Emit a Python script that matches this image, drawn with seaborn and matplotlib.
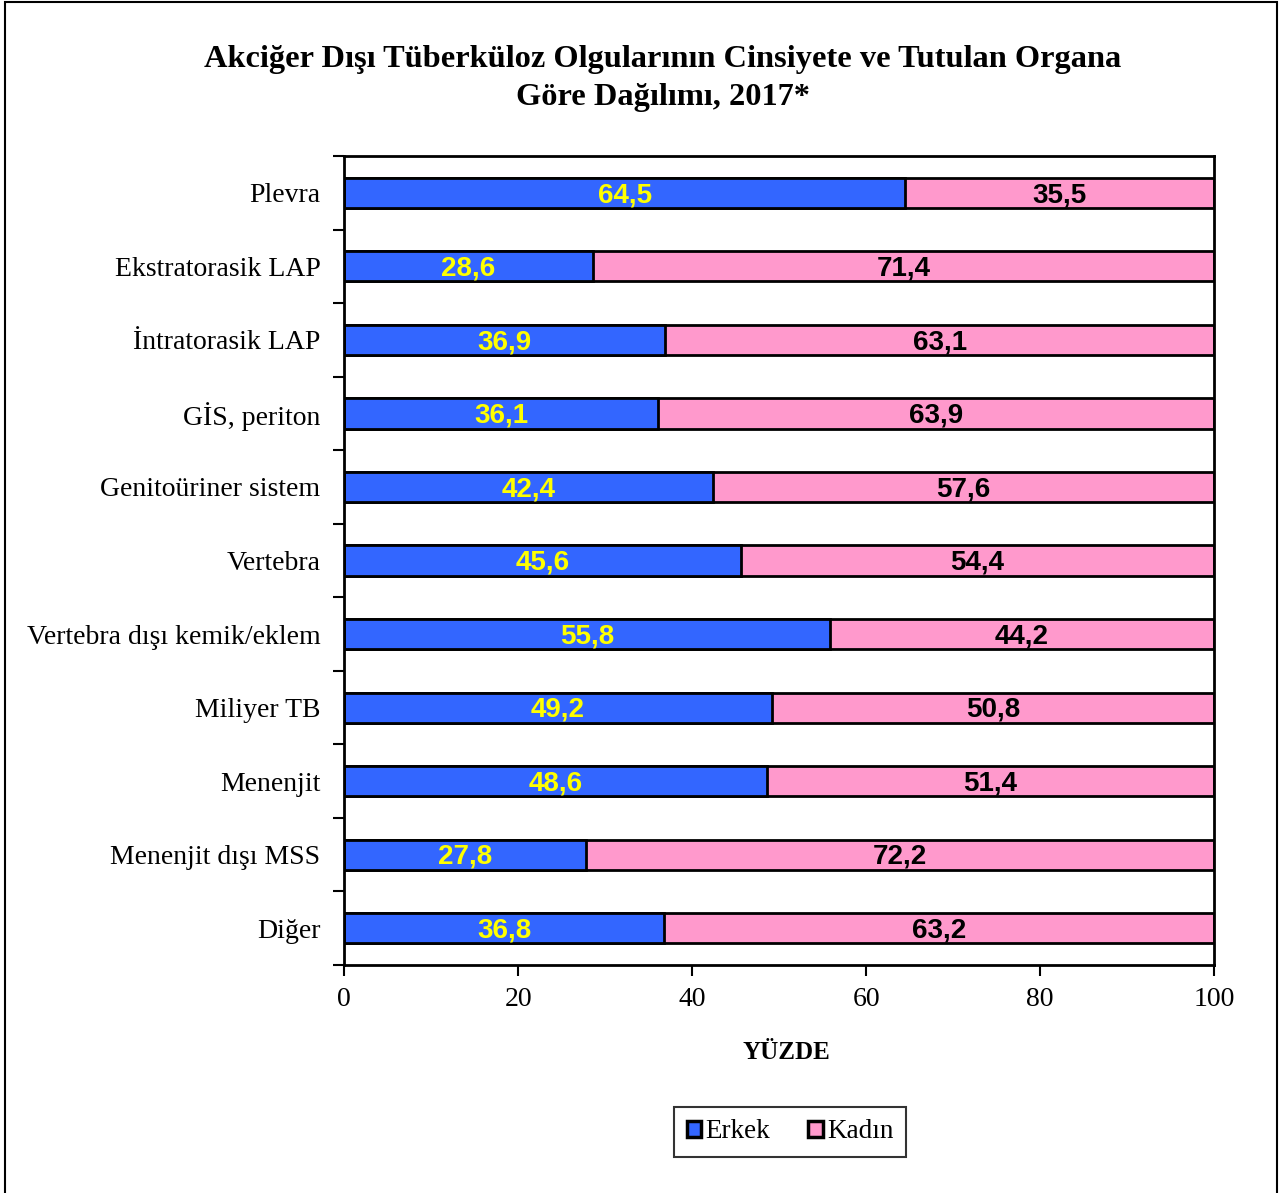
import pandas as pd
import matplotlib.pyplot as plt
import seaborn as sns
from matplotlib.patches import Rectangle, Patch
from matplotlib.ticker import FixedLocator

sns.set_style("white")
plt.rcParams['font.family'] = ['Liberation Serif', 'DejaVu Serif']
plt.rcParams['text.color'] = 'black'
plt.rcParams['xtick.color'] = 'black'
plt.rcParams['ytick.color'] = 'black'
plt.rcParams['axes.labelcolor'] = 'black'

# Data
organs = ['Plevra', 'Ekstratorasik LAP', 'İntratorasik LAP', 'GİS, periton',
          'Genitoüriner sistem', 'Vertebra', 'Vertebra dışı kemik/eklem',
          'Miliyer TB', 'Menenjit', 'Menenjit dışı MSS', 'Diğer']
erkek = [64.5, 28.6, 36.9, 36.1, 42.4, 45.6, 55.8, 49.2, 48.6, 27.8, 36.8]
kadin = [35.5, 71.4, 63.1, 63.9, 57.6, 54.4, 44.2, 50.8, 51.4, 72.2, 63.2]

df = pd.DataFrame({'organ': organs, 'erkek': erkek, 'kadin': kadin})
df['toplam'] = df['erkek'] + df['kadin']

blue = '#3366FF'
pink = '#FF99CC'

fig = plt.figure(figsize=(12.8, 11.93), dpi=100)
ax = fig.add_axes([0.2688, 0.1911, 0.6797, 0.6781])

sns.barplot(data=df, x='toplam', y='organ', orient='h', color=pink,
            edgecolor='black', linewidth=2, width=0.41, saturation=1, ax=ax)
sns.barplot(data=df, x='erkek', y='organ', orient='h', color=blue,
            edgecolor='black', linewidth=2, width=0.41, saturation=1, ax=ax)

# value labels
for i, (e, k) in enumerate(zip(erkek, kadin)):
    ax.text(e / 2, i + 0.03, f'{e:.1f}'.replace('.', ','), ha='center', va='center',
            color='#FFFF00', fontsize=20, fontweight='bold', family='Liberation Sans')
    ax.text(e + k / 2, i + 0.03, f'{k:.1f}'.replace('.', ','), ha='center', va='center',
            color='black', fontsize=20, fontweight='bold', family='Liberation Sans')

ax.set_xlim(0, 100)
ax.set_ylim(len(organs) - 0.5, -0.5)
ax.set_xticks([0, 20, 40, 60, 80, 100])
ax.set_xlabel('YÜZDE', fontsize=18, fontweight='bold', labelpad=22)
ax.xaxis.set_label_coords(0.508, -0.0935)
ax.set_ylabel('')

ax.tick_params(axis='y', which='major', length=0, pad=17, labelsize=20)
ax.yaxis.set_minor_locator(FixedLocator([i - 0.5 for i in range(len(organs) + 1)]))
ax.tick_params(axis='y', which='minor', length=8, width=1.5, color='black', left=True)
ax.tick_params(axis='x', which='major', length=8, width=1.5, color='black',
               bottom=True, pad=8, labelsize=20)

for s in ax.spines.values():
    s.set_visible(True)
    s.set_color('black')
    s.set_linewidth(2)

fig.suptitle('Akciğer Dışı Tüberküloz Olgularının Cinsiyete ve Tutulan Organa\nGöre Dağılımı, 2017*',
             x=0.518, y=0.962, fontsize=23.3, fontweight='bold', linespacing=1.4)

handles = [Patch(facecolor=blue, edgecolor='black', linewidth=2.5),
           Patch(facecolor=pink, edgecolor='black', linewidth=2.5)]
leg = fig.legend(handles, ['Erkek', 'Kadın'], loc='center', bbox_to_anchor=(0.6172, 0.0512),
                 ncol=2, fontsize=19.5, frameon=True, fancybox=False, edgecolor='black',
                 handlelength=0.55, handleheight=0.55, handletextpad=0.15, columnspacing=1.4,
                 borderpad=0.45)
leg.get_frame().set_linewidth(1.5)

# outer frame
fig.patches.append(Rectangle((0.004, -0.01), 0.994, 1.008, transform=fig.transFigure,
                             fill=False, edgecolor='black', linewidth=1.5))

fig.savefig('out.png', dpi=100)
